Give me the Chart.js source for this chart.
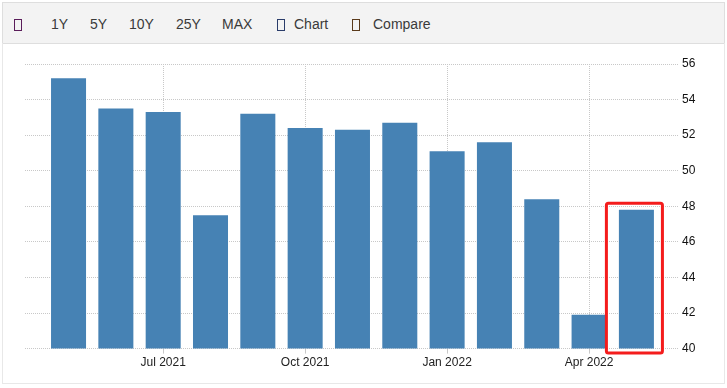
<!DOCTYPE html>
<html>
<head>
<meta charset="utf-8">
<script src="https://cdn.jsdelivr.net/npm/chart.js@4/dist/chart.umd.min.js"></script>
<style>
  body { margin: 0; background: #fff; font-family: "Liberation Sans", Arial, sans-serif; }
  .toolbar {
    position: absolute; left: 2px; top: 2px; width: 721px; height: 40px;
    background: #f3f3f3; border: 1px solid #dedede;
  }
  .toolbar span { position: absolute; top: 13px; font-size: 14px; color: #3a3a3a; line-height: 16px; }
  .toolbar i {
    position: absolute; top: 16px; width: 6px; height: 10px; border: 1px solid #444;
  }
  .panel {
    position: absolute; left: 2px; top: 43px; width: 721px; height: 340px;
    border: 1px solid #e8e8e8; border-top: none;
  }
  canvas { position: absolute; left: 0; top: 0; }
</style>
</head>
<body>
<div class="toolbar">
  <i style="left:11px;border-color:#5a1d5a"></i>
  <span style="left:48px">1Y</span>
  <span style="left:87px">5Y</span>
  <span style="left:126px">10Y</span>
  <span style="left:173px">25Y</span>
  <span style="left:219px">MAX</span>
  <i style="left:274px;border-color:#2a3c6a"></i>
  <span style="left:291px">Chart</span>
  <i style="left:349px;border-color:#5a3a1a"></i>
  <span style="left:370px">Compare</span>
</div>
<div class="panel">
  <canvas id="barChart" width="721" height="340"></canvas>
</div>
<script>
// monthly values, May 2021 .. May 2022
const months = ["May 2021", "Jun 2021", "Jul 2021", "Aug 2021", "Sep 2021", "Oct 2021", "Nov 2021",
  "Dec 2021", "Jan 2022", "Feb 2022", "Mar 2022", "Apr 2022", "May 2022"];
const values = [55.2, 53.5, 53.3, 47.5, 53.2, 52.4, 52.3, 52.7, 51.1, 51.6, 48.4, 41.9, 47.8];
const tickLabels = ["Jul 2021", "Oct 2021", "Jan 2022", "Apr 2022"];
const yTicks = [40, 42, 44, 46, 48, 50, 52, 54, 56];

const tickIdx = tickLabels.map(l => months.indexOf(l));

// red box round the latest bar
const highlightLast = {
  id: "highlightLast",
  afterDatasetsDraw(chart) {
    const bars = chart.getDatasetMeta(0).data;
    const bar = bars[bars.length - 1];
    const ctx = chart.ctx;
    const x1 = bar.x - bar.width / 2 - 12.5;
    const x2 = bar.x + bar.width / 2 + 8.5;
    const y1 = bar.y - 6.5;
    const y2 = chart.scales.y.getPixelForValue(yTicks[0]) + 4.5;
    ctx.save();
    ctx.strokeStyle = "#f41c1c";
    ctx.lineWidth = 3;
    ctx.beginPath();
    ctx.roundRect(x1, y1, x2 - x1, y2 - y1, 2);
    ctx.stroke();
    ctx.restore();
  }
};

new Chart(document.getElementById("barChart"), {
  type: "bar",
  data: {
    datasets: [{
      data: values.map((v, i) => ({ x: i, y: v })),
      backgroundColor: "#4682b4",
      barPercentage: 0.74,
      categoryPercentage: 1
    }]
  },
  options: {
    responsive: false,
    animation: false,
    layout: { padding: { left: 22, right: 0, top: 21, bottom: 11 } },
    plugins: { legend: { display: false }, tooltip: { enabled: false } },
    scales: {
      x: {
        type: "linear",
        offset: false,
        min: -0.92,
        max: 12.9,
        afterBuildTicks: (axis) => { axis.ticks = tickIdx.map(v => ({ value: v })); },
        border: { display: false, dash: [1, 1] },
        grid: { color: "#c8c8c8", offset: false, tickLength: 5 },
        ticks: {
          autoSkip: false,
          maxRotation: 0,
          padding: 2,
          color: "#222",
          font: { family: "Liberation Sans", size: 12 },
          callback: (v) => months[v]
        }
      },
      y: {
        position: "right",
        min: 40,
        max: 56,
        afterBuildTicks: (axis) => { axis.ticks = yTicks.map(v => ({ value: v })); },
        afterFit: (axis) => { axis.width = 45; },
        border: { display: false, dash: [1, 1] },
        grid: { color: "#c8c8c8", drawTicks: false },
        ticks: {
          padding: 3,
          color: "#111",
          font: { family: "Liberation Sans", size: 12 }
        }
      }
    }
  },
  plugins: [highlightLast]
});
</script>
</body>
</html>
